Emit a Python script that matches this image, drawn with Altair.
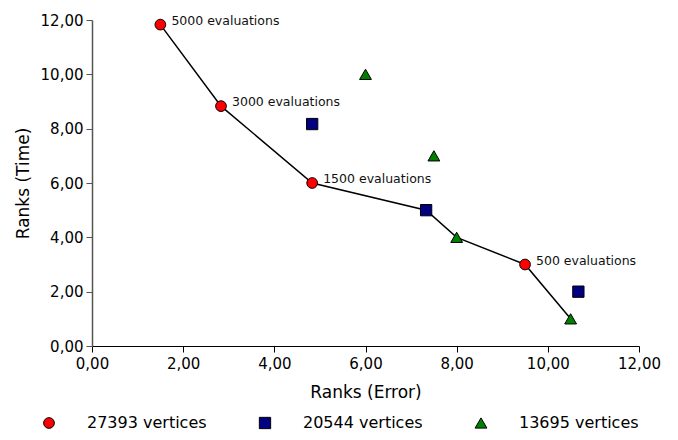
import altair as alt
import pandas as pd

series_names = ["27393 vertices", "20544 vertices", "13695 vertices"]
series_colors = ["#ff0000", "#000080", "#008000"]
series_shapes = ["circle", "square", "triangle-up"]
series_sizes = [115, 140, 250]

red_x = [1.5, 2.83, 4.83, 9.5]
red_y = [11.83, 8.83, 6.0, 3.0]
blue_x = [4.83, 7.33, 10.67]
blue_y = [8.17, 5.0, 2.0]
green_x = [6.0, 7.5, 8.0, 10.5]
green_y = [10.0, 7.0, 4.0, 1.0]

pareto_x = [1.5, 2.83, 4.83, 7.33, 8.0, 9.5, 10.5]
pareto_y = [11.83, 8.83, 6.0, 5.0, 4.0, 3.0, 1.0]

eval_labels = ["5000 evaluations", "3000 evaluations", "1500 evaluations", "500 evaluations"]

rows = []
for name, xs, ys in zip(series_names, [red_x, blue_x, green_x], [red_y, blue_y, green_y]):
    for x, y in zip(xs, ys):
        rows.append({"x": x, "y": y, "series": name})
pts = pd.DataFrame(rows)
line_df = pd.DataFrame({"x": pareto_x, "y": pareto_y, "order": list(range(len(pareto_x)))})
lab_df = pd.DataFrame({"x": red_x, "y": red_y, "label": eval_labels})

fmt = "replace(format(datum.value, '.2f'), '.', ',')"
xscale = alt.Scale(domain=[0, 12], nice=False, zero=True)
yscale = alt.Scale(domain=[0, 12], nice=False, zero=True)
xaxis = alt.Axis(title="Ranks (Error)", values=[0, 2, 4, 6, 8, 10, 12], labelExpr=fmt,
                 grid=False, domainColor="#000000", tickColor="#000000", tickSize=6,
                 labelFlush=False, labelOverlap=False,
                 labelFontSize=15, titleFontSize=17, labelPadding=4, titlePadding=13,
                 labelColor="#000000", titleColor="#000000", titleFontWeight="normal")
yaxis = alt.Axis(title="Ranks (Time)", values=[0, 2, 4, 6, 8, 10, 12], labelExpr=fmt,
                 grid=False, domainColor="#555555", domainWidth=1.5, tickColor="#555555", tickSize=6,
                 labelFlush=False, labelOverlap=False,
                 labelFontSize=15, titleFontSize=17, labelPadding=3, titlePadding=8,
                 labelColor="#000000", titleColor="#000000", titleFontWeight="normal")

line = alt.Chart(line_df).mark_line(color="black", strokeWidth=1.5).encode(
    x=alt.X("x:Q", scale=xscale, axis=xaxis),
    y=alt.Y("y:Q", scale=yscale, axis=yaxis),
    order="order:Q",
)

legend_kw = dict(title=None, orient="none", direction="horizontal",
                 legendX=-51, legendY=395, labelFontSize=16,
                 labelColor="#000000", labelOffset=30, columnPadding=50,
                 symbolSize=110, symbolStrokeColor="black", symbolStrokeWidth=1)

points = alt.Chart(pts).mark_point(filled=True, opacity=1, stroke="black", strokeWidth=1).encode(
    x=alt.X("x:Q", scale=xscale),
    y=alt.Y("y:Q", scale=yscale),
    color=alt.Color("series:N", scale=alt.Scale(domain=series_names, range=series_colors),
                    legend=alt.Legend(**legend_kw)),
    shape=alt.Shape("series:N", scale=alt.Scale(domain=series_names, range=series_shapes),
                    legend=alt.Legend(**legend_kw)),
    size=alt.Size("series:N", scale=alt.Scale(domain=series_names, range=series_sizes), legend=None),
)

labels = alt.Chart(lab_df).mark_text(align="left", baseline="middle", dx=11, dy=-4,
                                     fontSize=12.5, color="#111111").encode(
    x=alt.X("x:Q", scale=xscale),
    y=alt.Y("y:Q", scale=yscale),
    text="label:N",
)

chart = alt.layer(line, points, labels).properties(
    width=547, height=326,
    autosize=alt.AutoSizeParams(type="none"),
    padding={"left": 84, "top": 12, "right": 31, "bottom": 86},
).configure(font="DejaVu Sans").configure_view(stroke=None)

chart.save("out.html", embed_options={"renderer": "svg", "actions": False})
